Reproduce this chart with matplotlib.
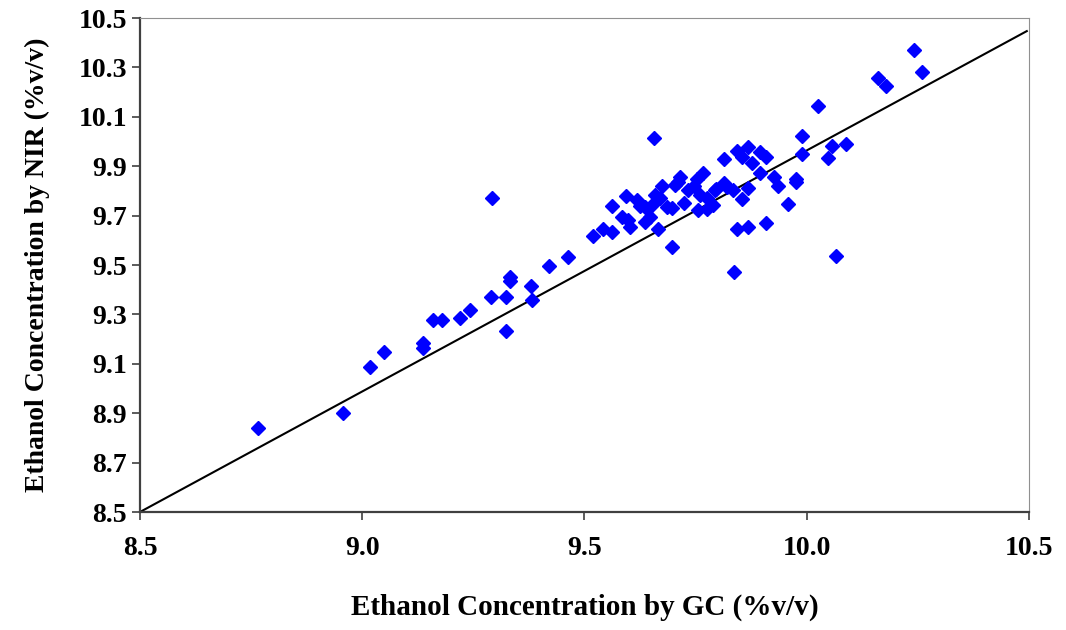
import numpy as np
import matplotlib.pyplot as plt

plt.rcParams['font.family'] = ['Liberation Serif', 'DejaVu Serif']

# Ethanol concentration: GC (reference) vs NIR (predicted), %v/v
gc = [8.765, 8.957, 9.017, 9.049, 9.137, 9.137, 9.159, 9.179, 9.220, 9.242,
      9.290, 9.292, 9.323, 9.323, 9.332, 9.332, 9.380, 9.382, 9.420, 9.463,
      9.519, 9.542, 9.562, 9.562, 9.593, 9.584, 9.602, 9.618, 9.636, 9.636,
      9.647, 9.659, 9.656, 9.670, 9.665, 9.674, 9.697, 9.697, 9.704, 9.715,
      9.724, 9.733, 9.753, 9.755, 9.760, 9.767, 9.776, 9.776, 9.789, 9.794,
      9.814, 9.814, 9.834, 9.836, 9.843, 9.843, 9.854, 9.854, 9.868, 9.868,
      9.868, 9.877, 9.895, 9.895, 9.908, 9.908, 9.926, 9.935, 9.958, 9.976,
      9.976, 9.989, 9.989, 10.025, 10.048, 10.057, 10.066, 10.088, 10.160, 10.178,
      10.241, 10.259, 9.746, 9.796, 9.821, 9.686, 9.710, 9.625, 9.598, 9.652]
nir = [8.840, 8.901, 9.087, 9.148, 9.184, 9.164, 9.277, 9.277, 9.285, 9.318,
       9.370, 9.771, 9.370, 9.233, 9.451, 9.435, 9.415, 9.358, 9.496, 9.532,
       9.617, 9.646, 9.634, 9.739, 9.779, 9.694, 9.654, 9.763, 9.735, 9.674,
       9.694, 9.783, 10.014, 9.771, 9.646, 9.820, 9.731, 9.573, 9.824, 9.856,
       9.751, 9.804, 9.848, 9.723, 9.783, 9.872, 9.771, 9.727, 9.743, 9.804,
       9.832, 9.929, 9.804, 9.472, 9.962, 9.646, 9.937, 9.767, 9.978, 9.812,
       9.654, 9.913, 9.957, 9.872, 9.937, 9.670, 9.856, 9.820, 9.747, 9.848,
       9.836, 10.022, 9.949, 10.144, 9.933, 9.982, 9.536, 9.990, 10.257, 10.225,
       10.370, 10.281, 9.820, 9.808, 9.816, 9.735, 9.836, 9.739, 9.682, 9.743]

# calibration line
fit_x = [8.5, 10.495]
fit_y = [8.5, 10.447]

xticks = [8.5, 9.0, 9.5, 10.0, 10.5]
yticks = [8.5, 8.7, 8.9, 9.1, 9.3, 9.5, 9.7, 9.9, 10.1, 10.3, 10.5]

fig = plt.figure(figsize=(10.66, 6.3), dpi=100)
ax = fig.add_axes([0.1313, 0.1873, 0.834, 0.7841])

ax.plot(fit_x, fit_y, color='black', lw=1.5, zorder=2)
ax.plot(gc, nir, linestyle='none', marker='D', ms=7, color='#0000FF', zorder=3)

ax.set_xlim(8.5, 10.5)
ax.set_ylim(8.5, 10.5)
ax.set_xticks(xticks)
ax.set_xticklabels([f'{v:.1f}' for v in xticks])
ax.set_yticks(yticks)
ax.set_yticklabels([f'{v:.1f}' for v in yticks])

for s in ['left', 'bottom']:
    ax.spines[s].set_linewidth(1.6)
    ax.spines[s].set_color('#404040')
for s in ['top', 'right']:
    ax.spines[s].set_linewidth(0.8)
    ax.spines[s].set_color('#909090')

ax.tick_params(direction='out', length=6, width=1.2, color='#404040',
               labelsize=20)
ax.tick_params(axis='x', pad=11)
for lab in ax.get_xticklabels() + ax.get_yticklabels():
    lab.set_fontweight('bold')

ax.set_xlabel('Ethanol Concentration by GC (%v/v)', fontsize=21,
              fontweight='bold', labelpad=24)
ax.set_ylabel('Ethanol Concentration by NIR (%v/v)', fontsize=20,
              fontweight='bold', labelpad=20)

fig.savefig('out.png', dpi=100)
